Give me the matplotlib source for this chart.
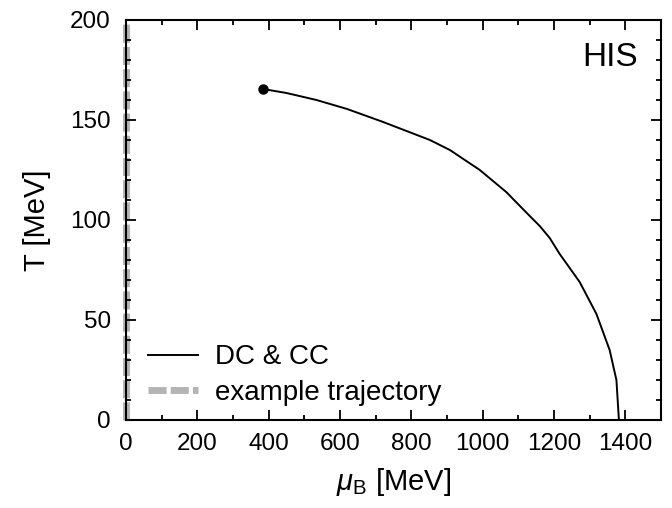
import matplotlib
matplotlib.use("Agg")
import matplotlib.pyplot as plt
from matplotlib.ticker import MultipleLocator

plt.rcParams['font.family'] = ['Liberation Sans', 'DejaVu Sans']
plt.rcParams['mathtext.fontset'] = 'custom'
plt.rcParams['mathtext.it'] = 'Liberation Sans:italic'
plt.rcParams['mathtext.rm'] = 'Liberation Sans'

# phase boundary (DC & CC)
mu_b = [384, 450, 534, 620, 721, 852, 908, 992, 1066, 1132, 1160, 1188,
        1216, 1272, 1319, 1356, 1375, 1382]
temp = [165.5, 163.5, 160, 155.5, 149, 140, 135, 125, 114, 102, 97, 91,
        83, 69, 53, 35, 20, 0]

# example trajectory
traj_mu = [0, 0]
traj_t = [0, 200]

fig = plt.figure(figsize=(6.72, 5.08), dpi=100)
ax = fig.add_axes([126 / 672, 88 / 508, 535 / 672, 400 / 508])

ax.plot(traj_mu, traj_t, color='#b4b4b4', lw=5, dashes=(2.6, 0.6),
        solid_capstyle='butt', clip_on=False, zorder=1, label='example trajectory')
ax.plot(mu_b, temp, color='black', lw=1.4, zorder=3, label='DC & CC')
ax.plot(mu_b[0], temp[0], 'o', color='black', ms=6.5, zorder=4)

ax.set_xlim(0, 1500)
ax.set_ylim(0, 200)
ax.xaxis.set_major_locator(MultipleLocator(200))
ax.xaxis.set_minor_locator(MultipleLocator(100))
ax.yaxis.set_major_locator(MultipleLocator(50))
ax.yaxis.set_minor_locator(MultipleLocator(10))
ax.tick_params(which='both', direction='in', top=True, right=True, width=1.3)
ax.tick_params(which='major', length=7, labelsize=17.5)
ax.tick_params(which='minor', length=3.5)
ax.tick_params(axis='y', pad=11)
ax.tick_params(axis='x', pad=9)
for s in ax.spines.values():
    s.set_linewidth(1.5)
    s.set_zorder(5)

ax.set_xlabel(r'$\mu_{\mathrm{B}}$ [MeV]', fontsize=21, labelpad=8)
ax.set_ylabel('T [MeV]', fontsize=21, labelpad=14)

ax.text(1435, 177, 'HIS', fontsize=24, ha='right', va='baseline')

h, l = ax.get_legend_handles_labels()
ax.legend(h[::-1], l[::-1], loc='lower left', frameon=False, fontsize=20,
          handlelength=1.8, handletextpad=0.6, labelspacing=0.35,
          borderaxespad=0.1, bbox_to_anchor=(0.015, 0.0))

fig.savefig('out.png', dpi=100)
